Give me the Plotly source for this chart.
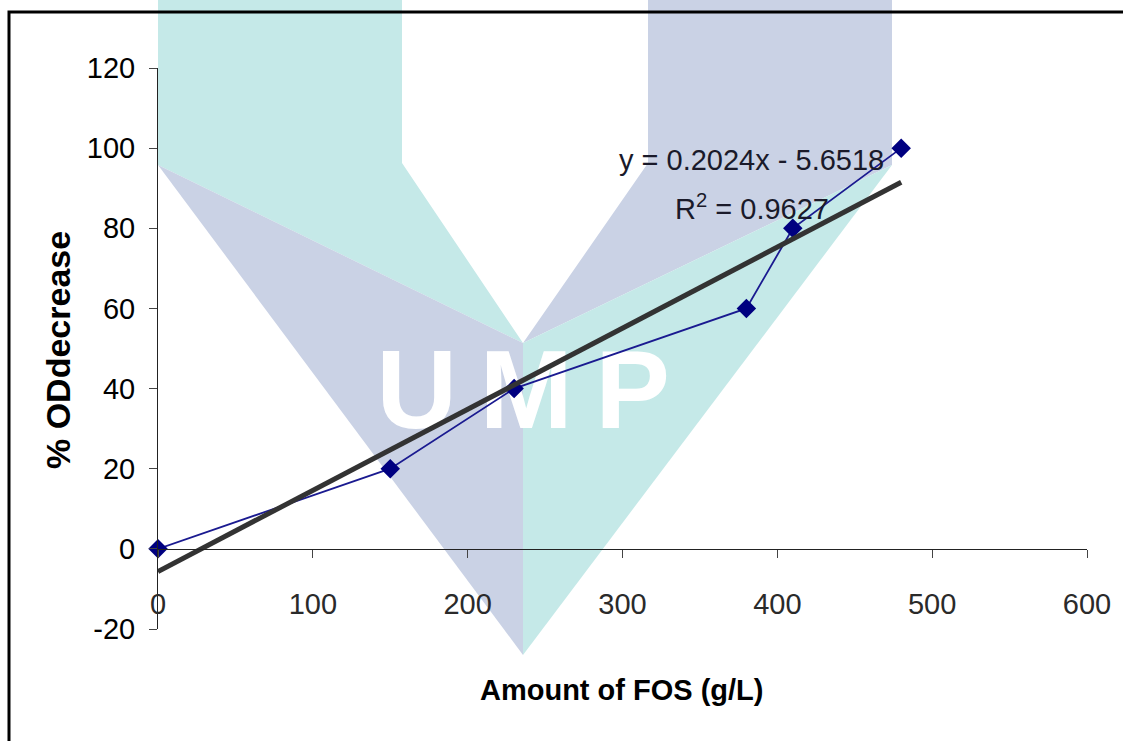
import plotly.graph_objects as go

# Measured OD decrease against FOS concentration
fos_g_per_l = [0, 150, 230, 380, 410, 480]
od_decrease_pct = [0, 20, 40, 60, 80, 100]

# Linear trendline reported on the chart
trend_slope = 0.2024
trend_intercept = -5.6518
trend_r2 = 0.9627

x_tick_vals = [0, 100, 200, 300, 400, 500, 600]
y_tick_vals = [-20, 0, 20, 40, 60, 80, 100, 120]
y_tick_text = [str(v) for v in y_tick_vals]

# Page / plot-area geometry in pixels
W, H = 1123, 741
M_L, M_R, M_T, M_B = 158, 36, 68, 112
PW = W - M_L - M_R
PH = H - M_T - M_B

FONT = "Arial, Liberation Sans, sans-serif"


def paper(x, y):
    """Convert page pixel position to paper coordinates."""
    return (x - M_L) / PW, (H - M_B - y) / PH


def path(points, close=True):
    parts = []
    for i, (x, y) in enumerate(points):
        px_, py_ = paper(x, y)
        parts.append(("M" if i == 0 else "L") + f"{px_:.5f},{py_:.5f}")
    return " ".join(parts) + (" Z" if close else "")


fig = go.Figure()

fig.add_trace(go.Scatter(
    x=fos_g_per_l, y=od_decrease_pct,
    mode="lines+markers",
    line=dict(color="#1a1a90", width=1.8),
    marker=dict(symbol="diamond", size=15, color="#000080"),
    cliponaxis=False,
    showlegend=False,
))

trend_x = [0, max(fos_g_per_l)]
trend_y = [trend_slope * v + trend_intercept for v in trend_x]
fig.add_trace(go.Scatter(
    x=trend_x, y=trend_y,
    mode="lines",
    line=dict(color="#333333", width=5),
    cliponaxis=False,
    showlegend=False,
))

# Background logo watermark
TEAL = "#c5e9e8"
LAV = "#cad2e5"
logo_parts = [
    ([(158, -5), (402, -5), (402, 163), (523, 343), (158, 165)], TEAL),
    ([(158, 165), (523, 343), (523, 655)], LAV),
    ([(648, -5), (892, -5), (892, 165), (523, 343), (648, 163)], LAV),
    ([(892, 165), (523, 343), (523, 655)], TEAL),
]
shapes = []
for pts, col in logo_parts:
    shapes.append(dict(type="path", xref="paper", yref="paper", path=path(pts),
                       fillcolor=col, line=dict(width=0), layer="below"))

ux0, uy0 = paper(340, 325)
ux1, uy1 = paper(706, 431)
shapes.append(dict(type="rect", xref="paper", yref="paper",
                   x0=ux0, y0=uy1, x1=ux1, y1=uy0,
                   line=dict(width=0), fillcolor="rgba(0,0,0,0)", layer="below",
                   label=dict(text="U\u2009M\u2009P", textposition="middle center",
                              font=dict(family=FONT, size=112, color="white", weight="bold"))))

# Outer chart frame (top and left edges)
shapes.append(dict(type="path", xref="paper", yref="paper",
                   path=path([(9, 760), (9, 12), (1140, 12)], close=False),
                   line=dict(color="black", width=3), layer="above"))

eq_x, eq_y = paper(751, 160)
r2_x, r2_y = paper(752, 207)
xt_x, xt_y = paper(622, 690)
yt_x, yt_y = paper(58, 350)

sign = "-" if trend_intercept < 0 else "+"
common = dict(xref="paper", yref="paper", showarrow=False,
              xanchor="center", yanchor="middle")
annotations = [
    dict(common, x=eq_x, y=eq_y,
         text=f"y = {trend_slope:.4f}x {sign} {abs(trend_intercept):.4f}",
         font=dict(family=FONT, size=29, color="#1a1a2a")),
    dict(common, x=r2_x, y=r2_y,
         text=f"R<sup>2</sup> = {trend_r2:.4f}",
         font=dict(family=FONT, size=29, color="#1a1a2a")),
    dict(common, x=xt_x, y=xt_y,
         text="<b>Amount of FOS (g/L)</b>",
         font=dict(family=FONT, size=29, color="black")),
    dict(common, x=yt_x, y=yt_y,
         text="<b>% ODdecrease</b>", textangle=-90,
         font=dict(family=FONT, size=34, color="black")),
]

y_lo, y_hi = -20, 120
fig.update_layout(
    width=W, height=H,
    margin=dict(l=M_L, r=M_R, t=M_T, b=M_B, pad=0),
    paper_bgcolor="white",
    plot_bgcolor="rgba(0,0,0,0)",
    shapes=shapes,
    annotations=annotations,
    xaxis=dict(
        range=[0, 600], tickvals=x_tick_vals,
        anchor="free", position=(0 - y_lo) / (y_hi - y_lo),
        showline=True, linecolor="#222222", linewidth=1,
        ticks="outside", ticklen=8, tickcolor="#444444", tickwidth=1,
        ticklabelstandoff=21,
        tickfont=dict(family=FONT, size=29, color="#2a2a2a"),
        showgrid=False, zeroline=False, automargin=False,
    ),
    yaxis=dict(
        range=[y_lo, y_hi], tickvals=y_tick_vals, ticktext=y_tick_text,
        showline=True, linecolor="#222222", linewidth=1,
        ticks="outside", ticklen=8, tickcolor="#444444", tickwidth=1,
        ticklabelstandoff=8,
        tickfont=dict(family=FONT, size=29, color="black"),
        showgrid=False, zeroline=False, automargin=False,
    ),
)

fig.write_html("out.html")
